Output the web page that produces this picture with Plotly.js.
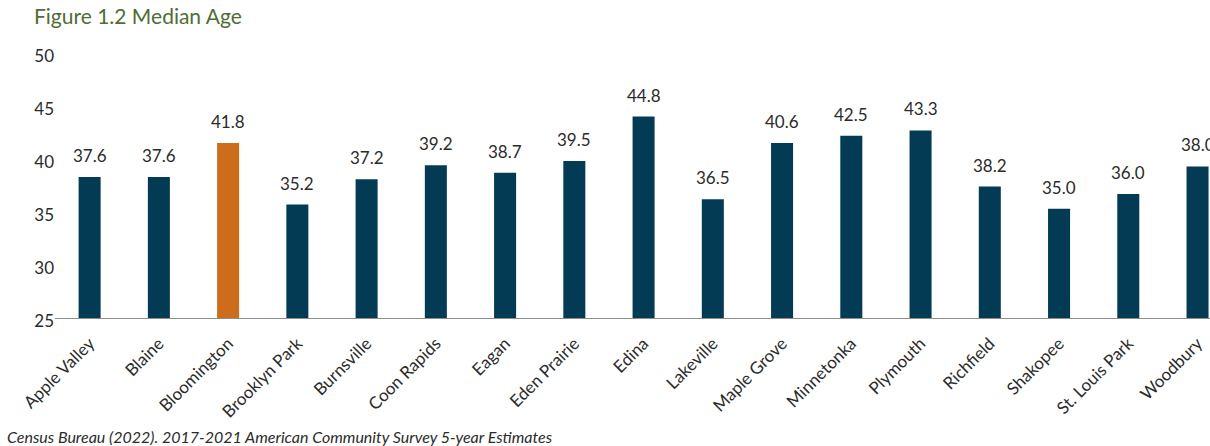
<!DOCTYPE html>
<html>
<head>
<meta charset="utf-8">
<script src="https://cdn.plot.ly/plotly-3.0.1.min.js"></script>
<style>html,body{margin:0;padding:0;background:#fff;}#chart{width:1210px;height:446px;}</style>
</head>
<body>
<div id="chart"></div>
<script>
// Data
const cities = ["Apple Valley", "Blaine", "Bloomington", "Brooklyn Park", "Burnsville", "Coon Rapids", "Eagan", "Eden Prairie", "Edina", "Lakeville", "Maple Grove", "Minnetonka", "Plymouth", "Richfield", "Shakopee", "St. Louis Park", "Woodbury"];
// bar heights as drawn in the picture
const barHeights = [38.3, 38.3, 41.5, 35.7, 38.1, 39.4, 38.7, 39.8, 44.0, 36.2, 41.5, 42.2, 42.7, 37.4, 35.3, 36.7, 39.3];
// value labels printed above the bars
const valueLabels = ["37.6", "37.6", "41.8", "35.2", "37.2", "39.2", "38.7", "39.5", "44.8", "36.5", "40.6", "42.5", "43.3", "38.2", "35.0", "36.0", "38.0"];
const highlightCity = "Bloomington";
const yTicks = [25, 30, 35, 40, 45, 50];

const navy = "#033b54";
const orange = "#cd6d1c";
const font = "Lato, 'Open Sans', sans-serif";

const colors = cities.map(c => c === highlightCity ? orange : navy);

const trace = {
  type: "bar",
  x: cities,
  y: barHeights,
  marker: {color: colors, line: {width: 0}},
  hoverinfo: "skip",
  cliponaxis: true
};

const annotations = cities.map((c, i) => ({
  x: c, y: barHeights[i], xref: "x", yref: "y",
  text: valueLabels[i], showarrow: false,
  yanchor: "bottom", xanchor: "center", yshift: 9,
  font: {family: font, size: 17, color: "#2b2b2b"}
}));

annotations.push({
  xref: "paper", yref: "paper", x: -0.0433, y: -0.449,
  xanchor: "left", yanchor: "middle", showarrow: false,
  text: "<i>Census Bureau (2022). 2017-2021 American Community Survey 5-year Estimates</i>",
  font: {family: font, size: 16, color: "#2b2b2b"}
});

const layout = {
  width: 1210, height: 446,
  margin: {l: 55, r: 0, t: 53, b: 128, pad: 0},
  paper_bgcolor: "#fff", plot_bgcolor: "#fff",
  showlegend: false,
  bargap: 0.682,
  title: {
    text: "Figure 1.2 Median Age",
    x: 34/1210, xref: "container", xanchor: "left",
    y: 1 - 17/446, yref: "container", yanchor: "middle",
    font: {family: font, size: 21, color: "#4f6d34"}
  },
  xaxis: {
    type: "category",
    range: [-0.5, 16.18],
    showgrid: false, zeroline: false,
    showline: true, linecolor: "#8c8c8c", linewidth: 1,
    ticks: "", tickangle: -45,
    ticklabelstandoff: 8,
    tickfont: {family: font, size: 17, color: "#2b2b2b"},
    fixedrange: true
  },
  yaxis: {
    range: [25, 50],
    tickvals: yTicks,
    ticktext: yTicks.map(String),
    showgrid: false, zeroline: false, showline: false,
    ticks: "",
    ticklabelshift: 3,
    tickfont: {family: font, size: 17, color: "#2b2b2b"},
    fixedrange: true
  },
  annotations: annotations
};

Plotly.newPlot("chart", [trace], layout, {displayModeBar: false, staticPlot: true});
</script>
</body>
</html>
